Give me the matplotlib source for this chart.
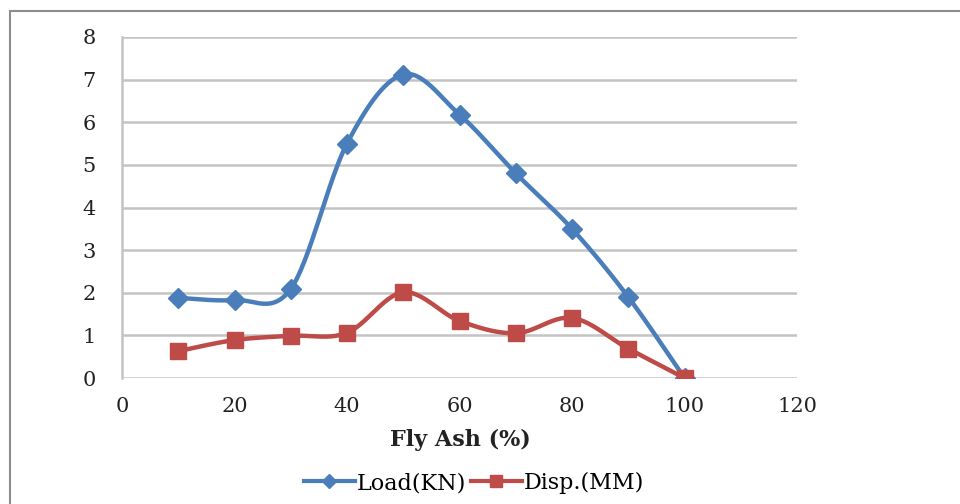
import numpy as np
import matplotlib
matplotlib.use("Agg")
import matplotlib.pyplot as plt
from matplotlib.patches import Rectangle

# data
fly_ash = [10, 20, 30, 40, 50, 60, 70, 80, 90, 100]
load_kn = [1.88, 1.83, 2.09, 5.5, 7.12, 6.18, 4.8, 3.5, 1.9, 0.0]
disp_mm = [0.63, 0.89, 0.99, 1.06, 2.01, 1.34, 1.05, 1.41, 0.69, 0.0]

x_ticks = [0, 20, 40, 60, 80, 100, 120]
y_ticks = [0, 1, 2, 3, 4, 5, 6, 7, 8]

BLUE = "#4a7ebb"
RED = "#be4b48"
GRID = "#c4c4c4"


def smooth(xs, ys, n=30):
    """Excel-like smoothed line: cubic Bezier with Catmull-Rom control points"""
    xs = np.asarray(xs, float)
    ys = np.asarray(ys, float)
    P = np.column_stack([xs, ys])
    out = []
    for i in range(len(P) - 1):
        p0 = P[i - 1] if i > 0 else P[i]
        p1, p2 = P[i], P[i + 1]
        p3 = P[i + 2] if i + 2 < len(P) else P[i + 1]
        c1 = p1 + (p2 - p0) / 6
        c2 = p2 - (p3 - p1) / 6
        t = np.linspace(0, 1, n)[:, None]
        seg = (1 - t) ** 3 * p1 + 3 * (1 - t) ** 2 * t * c1 + 3 * (1 - t) * t ** 2 * c2 + t ** 3 * p2
        out.append(seg if i == 0 else seg[1:])
    out = np.vstack(out)
    return out[:, 0], out[:, 1]


plt.rcParams["font.family"] = ["DejaVu Serif"]

fig = plt.figure(figsize=(9.6, 5.04), dpi=100)
fig.patches.append(Rectangle((10 / 960, -0.1), 1.2, 1 - 11 / 504 + 0.1,
                             transform=fig.transFigure, fill=False,
                             edgecolor="#8c8c8c", linewidth=1.5))

ax = fig.add_axes([122 / 960, 1 - 378 / 504, (797 - 122) / 960, (378 - 37) / 504])

for y in y_ticks:
    ax.axhline(y, color=GRID, linewidth=1.8, zorder=1)

sx, sy = smooth(fly_ash, load_kn)
ax.plot(sx, sy, color=BLUE, linewidth=3.2, zorder=3, solid_capstyle="round")
ax.plot(fly_ash, load_kn, linestyle="none", marker="D", markersize=10,
        color=BLUE, zorder=4)

sx, sy = smooth(fly_ash, disp_mm)
ax.plot(sx, sy, color=RED, linewidth=3.2, zorder=3, solid_capstyle="round")
ax.plot(fly_ash, disp_mm, linestyle="none", marker="s", markersize=12,
        color=RED, zorder=4)

ax.set_xlim(0, 120)
ax.set_ylim(0, 8)
ax.set_xticks(x_ticks)
ax.set_yticks(y_ticks)
ax.tick_params(length=0, labelsize=15, colors="#222222")
ax.tick_params(axis="x", pad=14)
ax.tick_params(axis="y", pad=19)
for s in ["top", "right", "bottom"]:
    ax.spines[s].set_visible(False)
ax.spines["left"].set_color(GRID)
ax.spines["left"].set_linewidth(1.8)

fig.text(460 / 960, 1 - 440 / 504, "Fly Ash (%)", ha="center", va="center",
         fontsize=16, fontweight="bold", color="#222222")

# legend
h1, = ax.plot([], [], color=BLUE, linewidth=3, marker="D", markersize=7)
h2, = ax.plot([], [], color=RED, linewidth=3, marker="s", markersize=9)
fig.legend([h1, h2], ["Load(KN)", "Disp.(MM)"], loc="center",
           bbox_to_anchor=(474 / 960, 1 - 483 / 504), ncol=2, frameon=False,
           fontsize=16, handlelength=2.3, handletextpad=0.1, columnspacing=0.2)

fig.savefig("out.png", dpi=100)
